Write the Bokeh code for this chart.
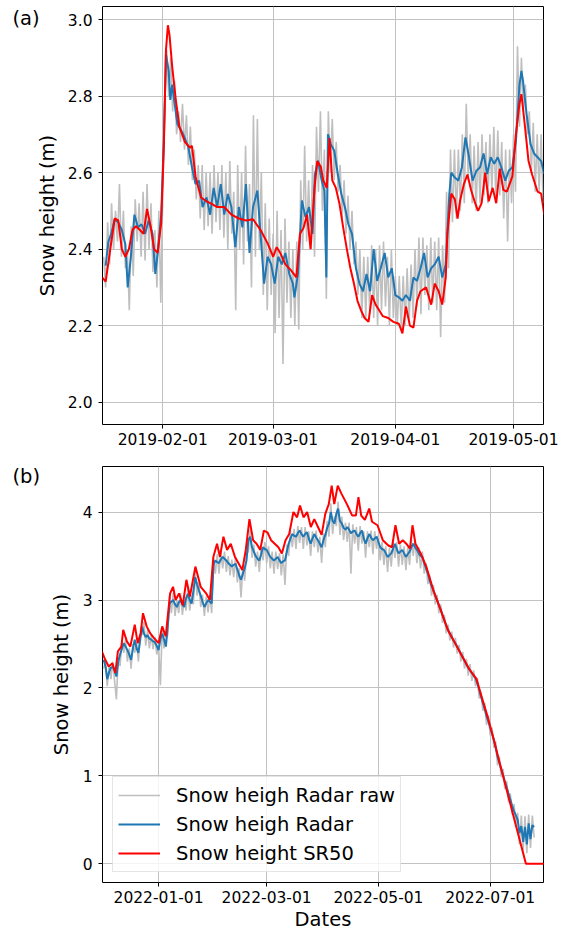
import numpy as np
import pandas as pd
from bokeh.plotting import figure
from bokeh.layouts import column
from bokeh.models import (Range1d, FixedTicker, DatetimeTickFormatter,
                          PrintfTickFormatter, Label, Legend, LegendItem)
from bokeh.embed import file_html
from bokeh.resources import INLINE

# ======================= DATA =======================
# ---- panel (a): 2019, day numbers counted from A_BASE ----
A_BASE = "2019-01-01"
A_RAW_START_DAY = 16.0
A_RAW_STEP_DAYS = 0.5
a_raw = [
    2.38, 2.30, 2.47, 2.36, 2.52, 2.40, 2.50, 2.42, 2.57, 2.38,
    2.50, 2.35, 2.40, 2.24, 2.46, 2.33, 2.53, 2.42, 2.52, 2.38,
    2.55, 2.37, 2.57, 2.40, 2.52, 2.34, 2.45, 2.30, 2.50, 2.26,
    2.55, 2.78, 2.92, 2.80, 2.90, 2.76, 2.84, 2.70, 2.76, 2.68,
    2.78, 2.66, 2.75, 2.62, 2.72, 2.58, 2.66, 2.53, 2.62, 2.48,
    2.62, 2.45, 2.60, 2.46, 2.60, 2.44, 2.62, 2.47, 2.60, 2.45,
    2.62, 2.43, 2.60, 2.40, 2.63, 2.44, 2.55, 2.24, 2.62, 2.40,
    2.60, 2.36, 2.67, 2.42, 2.57, 2.30, 2.75, 2.38, 2.74, 2.40,
    2.60, 2.28, 2.52, 2.24, 2.48, 2.28, 2.44, 2.18, 2.50, 2.22,
    2.45, 2.10, 2.48, 2.26, 2.42, 2.22, 2.40, 2.20, 2.42, 2.19,
    2.58, 2.40, 2.67, 2.42, 2.58, 2.40, 2.62, 2.38, 2.72, 2.55,
    2.76, 2.50, 2.66, 2.27, 2.76, 2.60, 2.74, 2.58, 2.68, 2.55,
    2.62, 2.48, 2.58, 2.44, 2.54, 2.40, 2.50, 2.36, 2.42, 2.28,
    2.40, 2.22, 2.38, 2.22, 2.38, 2.24, 2.41, 2.22, 2.40, 2.20,
    2.41, 2.24, 2.42, 2.25, 2.38, 2.20, 2.40, 2.22, 2.33, 2.20,
    2.33, 2.19, 2.33, 2.20, 2.35, 2.21, 2.36, 2.22, 2.40, 2.25,
    2.43, 2.23, 2.43, 2.28, 2.41, 2.24, 2.43, 2.26, 2.42, 2.24,
    2.43, 2.17, 2.41, 2.26, 2.55, 2.35, 2.66, 2.47, 2.66, 2.48,
    2.66, 2.50, 2.70, 2.52, 2.78, 2.58, 2.70, 2.52, 2.67, 2.50,
    2.68, 2.52, 2.70, 2.54, 2.68, 2.52, 2.70, 2.55, 2.72, 2.53,
    2.71, 2.54, 2.68, 2.48, 2.66, 2.42, 2.66, 2.52, 2.70, 2.55,
    2.93, 2.72, 2.90, 2.76, 2.83, 2.70, 2.76, 2.60, 2.73, 2.55,
    2.70, 2.55, 2.70, 2.52,
]
a_radar_pts = [
    (16.5, 2.357), (17.2, 2.42), (17.9, 2.44), (18.8, 2.478), (19.7, 2.47),
    (20.6, 2.45), (21.5, 2.413), (22.1, 2.30), (22.9, 2.38), (23.8, 2.49),
    (24.7, 2.457), (25.6, 2.465), (26.5, 2.44), (27.4, 2.475), (28.4, 2.44),
    (29.1, 2.335), (29.7, 2.39), (30.6, 2.49), (31.3, 2.70), (31.8, 2.91),
    (32.5, 2.865), (32.9, 2.79), (33.4, 2.83), (34.0, 2.78), (34.7, 2.727),
    (35.7, 2.71), (36.6, 2.69), (37.5, 2.665), (38.4, 2.614), (39.3, 2.57),
    (40.2, 2.579), (41.1, 2.51), (42.1, 2.535), (43.0, 2.49), (43.9, 2.56),
    (44.8, 2.51), (45.7, 2.57), (46.6, 2.49), (47.5, 2.544), (48.4, 2.51),
    (49.4, 2.405), (50.3, 2.51), (51.2, 2.457), (52.1, 2.57), (53.0, 2.39),
    (53.9, 2.51), (55.0, 2.553), (55.8, 2.44), (56.7, 2.31), (57.6, 2.38),
    (58.5, 2.36), (59.4, 2.31), (60.3, 2.38), (61.2, 2.36), (62.1, 2.39),
    (63.1, 2.335), (64.0, 2.31), (64.4, 2.274), (65.3, 2.335), (66.3, 2.527),
    (67.2, 2.483), (68.1, 2.51), (69.0, 2.44), (69.6, 2.596), (70.4, 2.631),
    (71.3, 2.58), (72.0, 2.553), (72.5, 2.326), (72.9, 2.70), (73.6, 2.675),
    (74.5, 2.657), (75.4, 2.596), (76.3, 2.544), (77.2, 2.51), (78.1, 2.465),
    (79.0, 2.44), (80.0, 2.35), (80.9, 2.31), (81.8, 2.29), (82.7, 2.335),
    (83.6, 2.29), (84.5, 2.40), (85.4, 2.317), (86.3, 2.35), (87.3, 2.39),
    (88.2, 2.326), (89.1, 2.35), (90.0, 2.28), (90.9, 2.274), (91.8, 2.265),
    (92.7, 2.28), (93.7, 2.265), (94.6, 2.326), (95.5, 2.317), (96.4, 2.35),
    (97.3, 2.39), (98.2, 2.326), (99.1, 2.35), (100.0, 2.36), (101.0, 2.38),
    (101.9, 2.326), (102.8, 2.36), (103.7, 2.544), (104.2, 2.60), (105.1, 2.587),
    (106.0, 2.579), (106.9, 2.614), (107.8, 2.692), (108.7, 2.64), (109.6, 2.579),
    (110.6, 2.605), (111.5, 2.614), (112.4, 2.65), (113.3, 2.596), (114.2, 2.64),
    (115.1, 2.623), (116.0, 2.64), (116.9, 2.614), (117.9, 2.579), (118.8, 2.605),
    (119.7, 2.614), (120.6, 2.683), (121.5, 2.83), (122.0, 2.866), (122.4, 2.84),
    (123.3, 2.753), (124.3, 2.675), (125.2, 2.65), (126.1, 2.64), (127.0, 2.63),
    (127.8, 2.596),
]
a_sr50_pts = [
    (15.6, 2.326), (16.5, 2.315), (17.4, 2.38), (18.8, 2.48), (19.7, 2.475),
    (20.6, 2.40), (21.5, 2.38), (22.4, 2.40), (23.3, 2.45), (24.2, 2.46),
    (25.2, 2.45), (26.1, 2.44), (27.0, 2.505), (27.9, 2.46), (28.8, 2.40),
    (29.7, 2.39), (30.6, 2.47), (31.3, 2.68), (31.8, 2.92), (32.3, 2.985),
    (32.7, 2.96), (33.4, 2.875), (34.3, 2.79), (35.2, 2.72), (36.6, 2.68),
    (37.9, 2.665), (38.4, 2.67), (39.3, 2.59), (40.7, 2.535), (42.1, 2.525),
    (43.4, 2.518), (44.8, 2.51), (46.6, 2.51), (48.4, 2.49), (50.3, 2.48),
    (52.1, 2.475), (53.9, 2.478), (55.8, 2.45), (57.6, 2.415), (59.0, 2.38),
    (59.9, 2.405), (60.8, 2.39), (62.1, 2.36), (63.5, 2.345), (64.9, 2.326),
    (65.8, 2.44), (66.7, 2.455), (67.6, 2.49), (68.5, 2.40), (69.5, 2.56),
    (70.2, 2.63), (71.1, 2.615), (71.7, 2.58), (72.6, 2.56), (73.3, 2.69),
    (74.0, 2.58), (74.9, 2.56), (75.8, 2.52), (76.8, 2.455), (77.7, 2.40),
    (78.6, 2.35), (79.5, 2.31), (80.4, 2.265), (81.3, 2.24), (82.2, 2.22),
    (83.2, 2.21), (84.1, 2.28), (85.0, 2.255), (85.9, 2.24), (86.8, 2.225),
    (88.2, 2.22), (89.5, 2.21), (90.9, 2.205), (91.8, 2.18), (92.7, 2.25),
    (93.7, 2.20), (94.6, 2.195), (95.5, 2.265), (96.4, 2.29), (97.8, 2.30),
    (99.1, 2.255), (100.0, 2.31), (101.0, 2.29), (101.9, 2.255), (102.8, 2.326),
    (103.2, 2.44), (104.2, 2.545), (105.1, 2.53), (105.8, 2.48), (106.4, 2.525),
    (107.4, 2.57), (108.3, 2.595), (109.2, 2.555), (110.1, 2.525), (111.0, 2.50),
    (111.9, 2.52), (112.8, 2.60), (113.7, 2.525), (114.7, 2.56), (115.6, 2.52),
    (116.5, 2.61), (117.4, 2.555), (118.3, 2.55), (119.7, 2.59), (120.6, 2.70),
    (121.5, 2.78), (122.0, 2.805), (122.9, 2.72), (123.8, 2.63), (124.7, 2.595),
    (126.1, 2.55), (127.0, 2.545), (127.8, 2.49),
]
A_X_RANGE_DAYS = (15.7, 127.6)
A_Y_RANGE = (1.9417, 3.034)
A_XTICKS = ["2019-02-01", "2019-03-01", "2019-04-01", "2019-05-01"]
A_YTICKS = [2.0, 2.2, 2.4, 2.6, 2.8, 3.0]

# ---- panel (b): 2021/2022, day numbers counted from B_BASE ----
B_BASE = "2022-01-01"
B_DAILY_START_DAY = -30
b_radar = [
    2.32, 2.25, 2.10, 2.18, 2.23, 2.24, 2.20, 2.13, 2.30, 2.38,
    2.45, 2.51, 2.47, 2.43, 2.38, 2.32, 2.45, 2.55, 2.45, 2.40,
    2.55, 2.70, 2.62, 2.58, 2.60, 2.56, 2.55, 2.53, 2.52, 2.48,
    2.43, 2.55, 2.62, 2.55, 2.47, 2.70, 2.96, 2.98, 3.00, 2.95,
    2.92, 2.97, 3.00, 2.95, 2.92, 3.02, 3.07, 3.00, 2.96, 3.10,
    3.26, 3.18, 3.11, 3.05, 2.98, 2.92, 2.96, 3.00, 2.98, 2.96,
    3.40, 3.45, 3.43, 3.42, 3.46, 3.49, 3.47, 3.45, 3.42, 3.40,
    3.38, 3.40, 3.41, 3.35, 3.28, 3.23, 3.30, 3.36, 3.45, 3.68,
    3.72, 3.60, 3.55, 3.50, 3.47, 3.45, 3.52, 3.60, 3.58, 3.57,
    3.53, 3.49, 3.47, 3.45, 3.47, 3.49, 3.45, 3.42, 3.44, 3.45,
    3.55, 3.64, 3.70, 3.75, 3.73, 3.72, 3.76, 3.79, 3.75, 3.72,
    3.75, 3.77, 3.70, 3.64, 3.70, 3.75, 3.71, 3.68, 3.64, 3.60,
    3.68, 3.74, 3.82, 3.87, 4.00, 3.90, 3.87, 3.98, 4.04, 3.90,
    3.87, 3.82, 3.80, 3.83, 3.80, 3.76, 3.78, 3.79, 3.75, 3.72,
    3.76, 3.79, 3.70, 3.64, 3.70, 3.75, 3.71, 3.68, 3.70, 3.72,
    3.66, 3.60, 3.58, 3.57, 3.53, 3.49, 3.51, 3.53, 3.58, 3.64,
    3.58, 3.53, 3.55, 3.57, 3.53, 3.49, 3.52, 3.55, 3.60, 3.64,
    3.60, 3.57, 3.53, 3.50, 3.49, 3.42, 3.36, 3.30, 3.22, 3.16,
    3.11, 3.05, 3.00, 2.94, 2.89, 2.83, 2.77, 2.71, 2.66, 2.62,
    2.58, 2.54, 2.51, 2.47, 2.43, 2.39, 2.35, 2.31, 2.27, 2.23,
    2.20, 2.17, 2.14, 2.11, 2.05, 1.98, 1.90, 1.83, 1.76, 1.68,
    1.62, 1.55, 1.48, 1.41, 1.32, 1.22, 1.15, 1.08, 1.01, 0.94,
    0.87, 0.80, 0.73, 0.66, 0.60, 0.55, 0.50, 0.35, 0.43, 0.25,
    0.42, 0.22, 0.46, 0.28, 0.44, 0.42,
]
b_raw = [
    2.22, 2.30, 2.02, 2.25, 2.10, 2.30, 2.08, 1.87, 2.35, 2.25,
    2.52, 2.40, 2.55, 2.30, 2.45, 2.22, 2.50, 2.40, 2.52, 2.30,
    2.62, 2.60, 2.75, 2.48, 2.66, 2.45, 2.60, 2.44, 2.58, 2.38,
    2.48, 2.03, 2.70, 2.45, 2.55, 2.60, 3.05, 2.85, 3.08, 2.82,
    3.00, 2.85, 3.08, 2.83, 3.00, 2.88, 3.15, 2.88, 3.05, 2.95,
    3.33, 3.05, 3.20, 2.92, 3.06, 2.82, 3.04, 2.86, 3.06, 2.85,
    3.48, 3.30, 3.52, 3.30, 3.55, 3.36, 3.55, 3.32, 3.50, 3.28,
    3.46, 3.26, 3.49, 3.20, 3.36, 3.03, 3.38, 3.22, 3.53, 3.55,
    3.80, 3.48, 3.63, 3.38, 3.55, 3.32, 3.60, 3.45, 3.66, 3.42,
    3.61, 3.36, 3.55, 3.30, 3.55, 3.35, 3.53, 3.28, 3.52, 3.17,
    3.63, 3.50, 3.78, 3.60, 3.81, 3.58, 3.84, 3.65, 3.83, 3.58,
    3.83, 3.62, 3.78, 3.50, 3.78, 3.60, 3.79, 3.54, 3.72, 3.42,
    3.76, 3.60, 3.90, 3.72, 4.10, 3.75, 3.95, 3.84, 4.12, 3.74,
    3.95, 3.68, 3.88, 3.66, 3.88, 3.30, 3.86, 3.64, 3.83, 3.56,
    3.84, 3.64, 3.78, 3.48, 3.78, 3.60, 3.79, 3.52, 3.78, 3.58,
    3.74, 3.45, 3.66, 3.40, 3.61, 3.32, 3.59, 3.38, 3.66, 3.48,
    3.66, 3.38, 3.63, 3.40, 3.61, 3.34, 3.60, 3.40, 3.68, 3.50,
    3.68, 3.42, 3.60, 3.36, 3.55, 3.30, 3.42, 3.18, 3.28, 3.05,
    3.17, 2.95, 3.06, 2.85, 2.95, 2.74, 2.83, 2.62, 2.72, 2.54,
    2.64, 2.46, 2.57, 2.39, 2.49, 2.30, 2.41, 2.22, 2.33, 2.14,
    2.27, 2.08, 2.20, 2.02, 2.11, 1.88, 1.96, 1.74, 1.83, 1.58,
    1.69, 1.46, 1.55, 1.32, 1.39, 1.12, 1.22, 0.99, 1.08, 0.85,
    0.94, 0.70, 0.80, 0.56, 0.68, 0.45, 0.58, 0.22, 0.55, 0.15,
    0.54, 0.12, 0.56, 0.18, 0.55, 0.30,
]
b_sr50_pts = [
    (-31.0, 2.42), (-29.1, 2.32), (-27.2, 2.245), (-25.2, 2.28), (-23.6, 2.17),
    (-22.2, 2.415), (-20.3, 2.47), (-19.3, 2.66), (-17.3, 2.53), (-15.4, 2.47),
    (-13.0, 2.72), (-11.4, 2.51), (-9.8, 2.62), (-8.5, 2.85), (-6.5, 2.70),
    (-4.5, 2.62), (-2.6, 2.57), (0.0, 2.51), (2.0, 2.70), (3.9, 2.585),
    (6.3, 3.075), (7.9, 3.15), (9.3, 3.00), (11.2, 3.075), (13.2, 2.94),
    (15.2, 3.23), (17.1, 3.04), (20.1, 3.38), (23.0, 3.15), (26.0, 3.075),
    (28.0, 3.00), (29.9, 3.49), (31.9, 3.64), (33.5, 3.49), (35.4, 3.72),
    (37.4, 3.57), (39.4, 3.64), (41.7, 3.49), (43.7, 3.415), (45.7, 3.34),
    (47.6, 3.57), (49.6, 3.92), (51.6, 3.68), (53.5, 3.64), (55.5, 3.57),
    (57.5, 3.79), (59.4, 3.77), (61.4, 3.68), (63.4, 3.64), (65.4, 3.60),
    (67.3, 3.53), (69.3, 3.68), (71.3, 3.75), (73.6, 4.00), (75.6, 3.94),
    (77.2, 4.075), (79.1, 3.94), (81.1, 4.00), (83.1, 3.83), (85.0, 3.92),
    (87.0, 3.83), (89.0, 3.74), (91.0, 3.98), (92.9, 4.09), (94.5, 4.30),
    (95.9, 4.09), (97.8, 4.30), (99.8, 4.21), (102.8, 4.09), (105.7, 3.96),
    (107.7, 3.96), (109.1, 4.17), (110.6, 3.96), (112.6, 3.91), (115.0, 4.04),
    (116.5, 3.89), (119.5, 3.85), (122.4, 3.68), (125.4, 3.62), (127.4, 3.60),
    (129.3, 3.85), (131.3, 3.64), (133.3, 3.68), (135.2, 3.64), (137.2, 3.585),
    (138.6, 3.85), (140.2, 3.64), (143.1, 3.53), (146.1, 3.38), (150.0, 3.11),
    (153.9, 2.89), (157.9, 2.66), (161.8, 2.51), (165.7, 2.36), (169.7, 2.21),
    (173.6, 2.10), (175.6, 1.95), (179.5, 1.68), (183.0, 1.41), (187.0, 1.08),
    (191.0, 0.76), (195.0, 0.44), (198.0, 0.20), (200.5, 0.0), (210.5, 0.0),
]
B_X_RANGE_DAYS = (-30.6, 210.1)
B_Y_RANGE = (-0.212, 4.518)
B_XTICKS = ["2022-01-01", "2022-03-01", "2022-05-01", "2022-07-01"]
B_YTICKS = [0, 1, 2, 3, 4]

Y_TITLE = "Snow height (m)"
X_TITLE = "Dates"
LEGEND_LABELS = ["Snow heigh Radar raw", "Snow heigh Radar", "Snow height SR50"]
COLORS = ["#bfbfbf", "#1f77b4", "#ff0000"]
WIDTHS = [1.6, 2.0, 2.0]

# ======================= HELPERS =======================
FONT = "DejaVu Sans"
TICK_PX = 15.5
LABEL_PX = 19.5


def to_dt(base, days):
    return (pd.Timestamp(base) + pd.to_timedelta(np.asarray(days, dtype=float), unit="D")).values


def ms(ts):
    return pd.Timestamp(ts).timestamp() * 1000.0


def day_ms(base, d):
    return ms(pd.Timestamp(base) + pd.Timedelta(days=d))


def make_panel(height, top, bottom, base, xr_days, yr, xticks, yticks, yfmt, ylab_standoff):
    p = figure(width=565, height=height, output_backend="svg", toolbar_location=None,
               title=None, x_axis_type="datetime",
               x_range=Range1d(day_ms(base, xr_days[0]), day_ms(base, xr_days[1])),
               y_range=Range1d(*yr),
               min_border_left=102, min_border_right=22,
               min_border_top=top, min_border_bottom=bottom)
    p.background_fill_color = "white"
    p.border_fill_color = "white"
    p.outline_line_color = "black"
    p.outline_line_alpha = 1.0
    p.outline_line_width = 1
    xt = FixedTicker(ticks=[ms(t) for t in xticks])
    yt = FixedTicker(ticks=list(yticks))
    p.xaxis.ticker = xt
    p.yaxis.ticker = yt
    p.xgrid.ticker = xt
    p.ygrid.ticker = yt
    fmt = "%Y-%m-%d"
    p.xaxis.formatter = DatetimeTickFormatter(
        microseconds=fmt, milliseconds=fmt, seconds=fmt, minsec=fmt, minutes=fmt,
        hourmin=fmt, hours=fmt, days=fmt, months=fmt, years=fmt)
    p.yaxis.formatter = PrintfTickFormatter(format=yfmt)
    for ax in (p.xaxis[0], p.yaxis[0]):
        ax.axis_line_color = None
        ax.major_tick_line_color = "black"
        ax.major_tick_line_width = 1
        ax.major_tick_out = 4
        ax.major_tick_in = 0
        ax.minor_tick_line_color = None
        ax.major_label_text_font = FONT
        ax.major_label_text_font_size = f"{TICK_PX}px"
        ax.major_label_text_color = "black"
        ax.axis_label_text_font = FONT
        ax.axis_label_text_font_size = f"{LABEL_PX}px"
        ax.axis_label_text_font_style = "normal"
        ax.axis_label_text_color = "black"
    p.xaxis.major_label_standoff = 4
    p.yaxis.major_label_standoff = 6
    p.yaxis.axis_label = Y_TITLE
    p.yaxis.axis_label_standoff = ylab_standoff
    for g in (p.xgrid[0], p.ygrid[0]):
        g.grid_line_color = "#c2c2c2"
        g.grid_line_width = 1
    return p


def add_tag(p, base, xr_days, yr, txt, center_below_top):
    # panel tag, kept in the left side panel so that it is not clipped to the frame
    p.add_layout(Label(x=day_ms(base, xr_days[0]), y=yr[1], x_offset=-90,
                       y_offset=-center_below_top, text=txt, text_align="left",
                       text_baseline="middle", text_font=FONT,
                       text_font_size=f"{LABEL_PX}px", text_color="black"), "left")


# ======================= PANEL (a) =======================
pa = make_panel(458, 6, 34, A_BASE, A_X_RANGE_DAYS, A_Y_RANGE, A_XTICKS, A_YTICKS, "%.1f", 6)
a_raw_days = A_RAW_START_DAY + A_RAW_STEP_DAYS * np.arange(len(a_raw))
a_rd, a_rv = zip(*a_radar_pts)
a_sd, a_sv = zip(*a_sr50_pts)
pa.line(to_dt(A_BASE, a_raw_days), a_raw, line_color=COLORS[0], line_width=WIDTHS[0])
pa.line(to_dt(A_BASE, a_rd), list(a_rv), line_color=COLORS[1], line_width=WIDTHS[1])
pa.line(to_dt(A_BASE, a_sd), list(a_sv), line_color=COLORS[2], line_width=WIDTHS[2])
add_tag(pa, A_BASE, A_X_RANGE_DAYS, A_Y_RANGE, "(a)", 11.5)

# ======================= PANEL (b) =======================
pb = make_panel(475, 8, 50, B_BASE, B_X_RANGE_DAYS, B_Y_RANGE, B_XTICKS, B_YTICKS, "%d", 7)
b_days = B_DAILY_START_DAY + np.arange(len(b_radar))
b_raw_days = B_DAILY_START_DAY + np.arange(len(b_raw))
b_sd, b_sv = zip(*b_sr50_pts)
r0 = pb.line(to_dt(B_BASE, b_raw_days), b_raw, line_color=COLORS[0], line_width=WIDTHS[0])
r1 = pb.line(to_dt(B_BASE, b_days), b_radar, line_color=COLORS[1], line_width=WIDTHS[1])
r2 = pb.line(to_dt(B_BASE, b_sd), list(b_sv), line_color=COLORS[2], line_width=WIDTHS[2])
pb.xaxis.axis_label = X_TITLE
pb.xaxis.axis_label_standoff = 2
add_tag(pb, B_BASE, B_X_RANGE_DAYS, B_Y_RANGE, "(b)", 10)

legend = Legend(items=[LegendItem(label=lab, renderers=[r])
                       for lab, r in zip(LEGEND_LABELS, [r0, r1, r2])],
                location=(10, 10))
legend.label_text_font = FONT
legend.label_text_font_size = f"{LABEL_PX}px"
legend.label_text_color = "black"
legend.glyph_width = 42
legend.glyph_height = 26
legend.label_height = 26
legend.label_standoff = 16
legend.spacing = 3
legend.padding = 5
legend.margin = 0
legend.border_line_color = "#cccccc"
legend.border_line_width = 1
legend.background_fill_color = "white"
legend.background_fill_alpha = 0.8
pb.add_layout(legend)

layout = column(pa, pb, spacing=0)
open("out.html", "w").write(file_html(layout, INLINE))
